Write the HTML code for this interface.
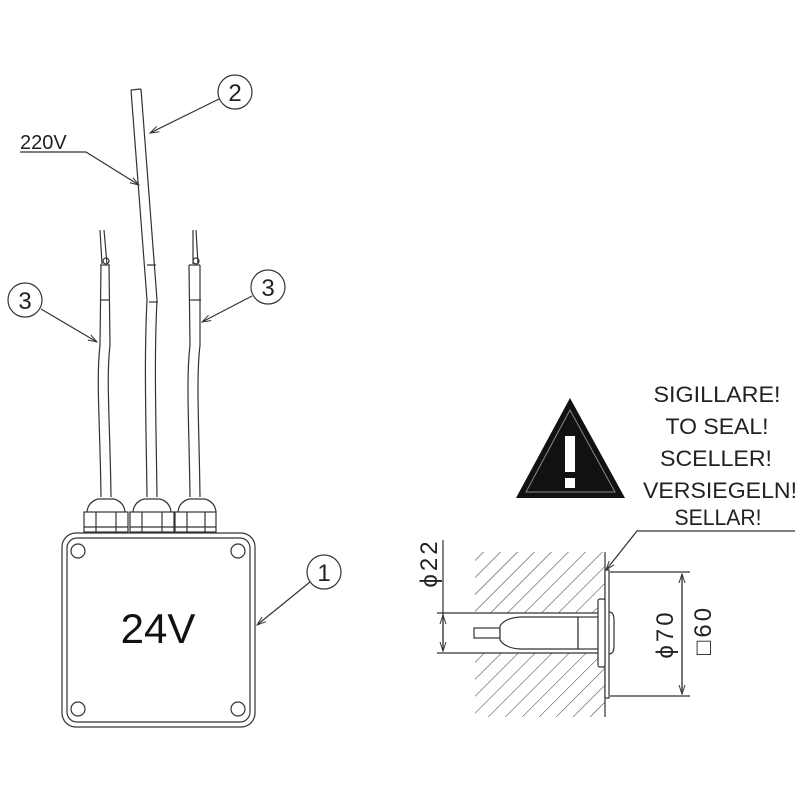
<!DOCTYPE html>
<html><head><meta charset="utf-8"><style>html,body{margin:0;background:#fff}svg{display:block}</style></head>
<body>
<svg width="800" height="800" viewBox="0 0 800 800" xmlns="http://www.w3.org/2000/svg" font-family="Liberation Sans, sans-serif">
<defs>
<pattern id="h" width="12" height="12" patternUnits="userSpaceOnUse" patternTransform="rotate(45)">
<line x1="0" y1="0" x2="0" y2="12" stroke="#333" stroke-width="1"/>
</pattern>
<marker id="a" markerWidth="10" markerHeight="8" refX="9" refY="4" orient="auto" markerUnits="userSpaceOnUse"><path d="M0,1 L9,4 L0,7" fill="none" stroke="#333" stroke-width="1"/></marker>
</defs>
<g fill="none" stroke="#333" stroke-width="1.2">
<!-- cables -->
<path d="M101,497 C100,420 96,380 100,345 L101,265" />
<path d="M111,497 C110,420 106,380 110,345 L109,265" />
<path d="M147,497 C146,420 144,360 147,300 L131,90" />
<path d="M157,497 C156,420 154,360 157,300 L141,89" />
<line x1="131" y1="90" x2="141" y2="89"/>
<line x1="147" y1="265" x2="156" y2="265"/><line x1="149" y1="302" x2="158" y2="302"/>
<path d="M190,497 C189,420 186,380 190,345 L189,265" />
<path d="M200,497 C199,420 196,380 200,345 L200,265" />
<line x1="100" y1="300" x2="110" y2="300"/><line x1="189" y1="300" x2="201" y2="300"/>
<line x1="100" y1="265" x2="110" y2="265"/><line x1="189" y1="265" x2="200" y2="265"/>
<path d="M102,264 L100,230 M107,264 L104,230"/><path d="M193,264 L193,230 M198,264 L196,230"/>
<circle cx="106" cy="261" r="3"/><circle cx="196" cy="261" r="3"/>
<!-- glands -->
<g>
<path d="M87,512 Q88,502 98,499 L114,499 Q124,502 125,512"/><rect x="84" y="512" width="44" height="20"/><line x1="96" y1="512" x2="96" y2="532"/><line x1="116" y1="512" x2="116" y2="532"/><line x1="84" y1="527" x2="128" y2="527"/>
<path d="M133,512 Q134,502 144,499 L160,499 Q170,502 171,512"/><rect x="130" y="512" width="44" height="20"/><line x1="142" y1="512" x2="142" y2="532"/><line x1="162" y1="512" x2="162" y2="532"/><line x1="130" y1="527" x2="174" y2="527"/>
<path d="M178,512 Q179,502 189,499 L205,499 Q215,502 216,512"/><rect x="175" y="512" width="41" height="20"/><line x1="187" y1="512" x2="187" y2="532"/><line x1="205" y1="512" x2="205" y2="532"/><line x1="175" y1="527" x2="216" y2="527"/>
</g>
<!-- box -->
<rect x="62" y="533" width="193" height="194" rx="14"/>
<rect x="67" y="538" width="183" height="184" rx="10"/>
<circle cx="78" cy="551" r="7"/><circle cx="238" cy="551" r="7"/><circle cx="78" cy="709" r="7"/><circle cx="238" cy="709" r="7"/>
<!-- callouts -->
<circle cx="235" cy="92" r="17"/><line x1="219" y1="99" x2="150" y2="133" marker-end="url(#a)"/>
<polyline points="20,152 86,152 139,185" marker-end="url(#a)"/>
<circle cx="25" cy="300" r="17"/><line x1="41" y1="309" x2="97" y2="342" marker-end="url(#a)"/>
<circle cx="268" cy="287" r="17"/><line x1="252" y1="296" x2="202" y2="322" marker-end="url(#a)"/>
<circle cx="324" cy="572" r="17"/><line x1="310" y1="582" x2="257" y2="625" marker-end="url(#a)"/>
</g>
<g font-size="24" fill="#222" text-anchor="middle">
<text x="235" y="101">2</text><text x="25" y="309">3</text><text x="268" y="296">3</text><text x="324" y="581">1</text>
</g>
<text x="20" y="149" font-size="20" fill="#222">220V</text>
<text x="158" y="643" font-size="42" fill="#111" text-anchor="middle">24V</text>
<!-- warning -->
<polygon points="570,398 516,498 625,498" fill="#111"/>
<polygon points="570,410 526,492 615,492" fill="none" stroke="#888" stroke-width="1"/>
<rect x="565" y="436" width="10" height="36" fill="#fff"/><rect x="565" y="478" width="10" height="10" fill="#fff"/>
<g font-size="22" fill="#222" text-anchor="middle">
<text x="717" y="402" textLength="127" lengthAdjust="spacingAndGlyphs">SIGILLARE!</text>
<text x="717" y="434" textLength="103" lengthAdjust="spacingAndGlyphs">TO SEAL!</text>
<text x="716" y="466" textLength="112" lengthAdjust="spacingAndGlyphs">SCELLER!</text>
<text x="720" y="498" textLength="154" lengthAdjust="spacingAndGlyphs">VERSIEGELN!</text>
<text x="718" y="525" textLength="87" lengthAdjust="spacingAndGlyphs">SELLAR!</text>
</g>
<!-- wall -->
<rect x="475" y="552" width="130" height="61" fill="url(#h)"/>
<rect x="475" y="653" width="130" height="64" fill="url(#h)"/>
<g fill="none" stroke="#333" stroke-width="1.2">
<line x1="605" y1="552" x2="605" y2="717"/>
<polyline points="795,531 637,531 606,570" marker-end="url(#a)"/>
<rect x="605" y="570" width="4" height="128" fill="#fff"/>
<line x1="475" y1="613" x2="605" y2="613"/><line x1="475" y1="653" x2="605" y2="653"/>
<rect x="474" y="628" width="26" height="10" fill="#fff"/>
<path d="M500,626 Q505,618 520,617 L578,617 L578,649 L520,649 Q505,648 500,640 Z" fill="#fff"/>
<rect x="578" y="617" width="20" height="32" fill="#fff"/>
<rect x="598" y="599" width="7" height="68" rx="2" fill="#fff"/>
<path d="M609,612 Q614,612 614,620 L614,646 Q614,654 609,654"/>
<!-- dims -->
<line x1="610" y1="572" x2="690" y2="572"/><line x1="610" y1="696" x2="690" y2="696"/>
<line x1="682" y1="574" x2="682" y2="694" marker-end="url(#a)"/><line x1="682" y1="694" x2="682" y2="574" marker-end="url(#a)"/>
<line x1="437" y1="613" x2="475" y2="613"/><line x1="437" y1="653" x2="475" y2="653"/>
<line x1="443" y1="540" x2="443" y2="651" marker-end="url(#a)"/><line x1="443" y1="651" x2="443" y2="615" marker-end="url(#a)"/>
</g>
<g font-size="24" fill="#222" text-anchor="middle" letter-spacing="3">
<text transform="translate(437,563) rotate(-90)">ϕ22</text>
<text transform="translate(673,634) rotate(-90)">ϕ70</text>
<text transform="translate(711,630) rotate(-90)">□60</text>
</g>
</svg>
</body></html>
